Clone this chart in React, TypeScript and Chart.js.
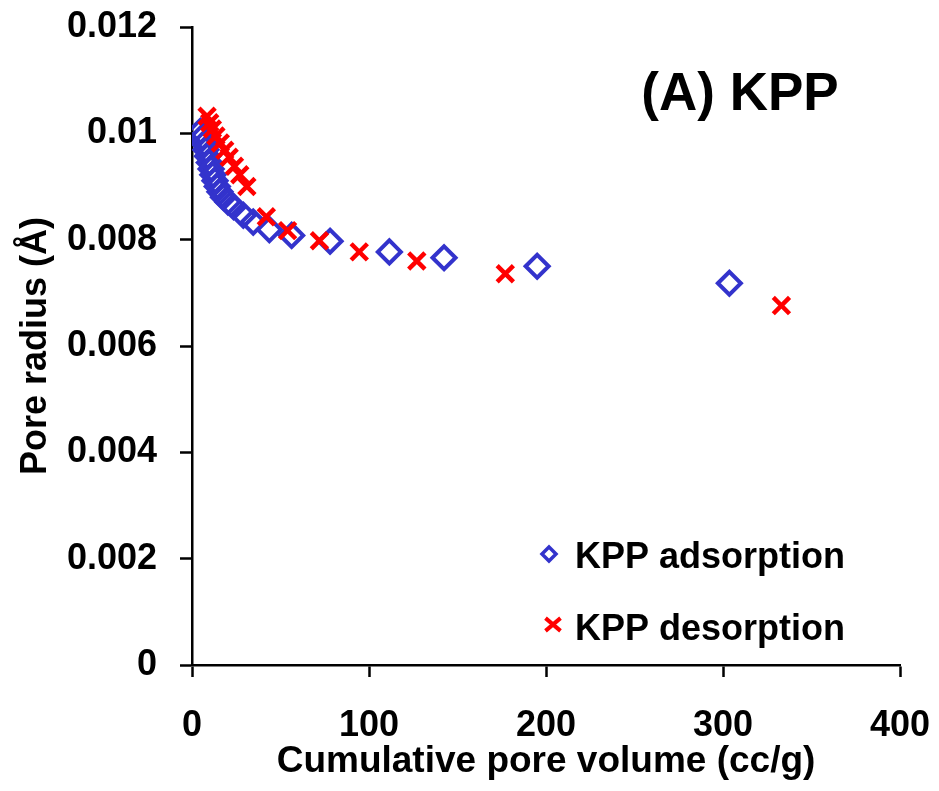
import React, { useEffect, useRef } from 'react';
import { Chart, registerables } from 'chart.js';

Chart.register(...registerables);

// ---- Data ----
const adsorptionVolume = [4.8, 5.8, 6.8, 7.8, 8.8, 9.8, 10.8, 11.8, 13, 14.3, 15.8, 17.8, 20.3, 23.5, 29, 34.6, 43.7, 56.3, 78, 111.5, 142.4, 195, 303.6];
const adsorptionRadius = [0.01004, 0.00993, 0.00981, 0.00969, 0.00957, 0.00945, 0.00933, 0.00922, 0.00911, 0.009, 0.0089, 0.0088, 0.00871, 0.00862, 0.00846, 0.00833, 0.00819, 0.00808, 0.00797, 0.00777, 0.00766, 0.0075, 0.00718];

const desorptionVolume = [8.5, 10, 11.5, 13.5, 16, 18.5, 21, 24, 27, 31, 42, 54, 72, 94.5, 127, 177, 333];
const desorptionRadius = [0.01032, 0.0102, 0.01008, 0.00995, 0.00982, 0.00968, 0.00955, 0.00938, 0.00922, 0.009, 0.00843, 0.00817, 0.00798, 0.00777, 0.0076, 0.00736, 0.00676];

const seriesLabels = ['KPP adsorption', 'KPP desorption'];
const panelLabel = '(A) KPP';
const xAxisTitle = 'Cumulative pore volume (cc/g)';
const yAxisTitle = 'Pore radius (Å)';
const xMin = 0, xMax = 400, xStep = 100;
const yMin = 0, yMax = 0.012, yStep = 0.002;

const BLUE = '#3333CC';
const RED = '#FF0000';
const FONT = '"Liberation Sans", Arial, Helvetica, sans-serif';

const toPoints = (xs: number[], ys: number[]) => xs.map((x, i) => ({ x, y: ys[i] }));

const overlayPlugin = {
  id: 'overlay',
  afterDatasetsDraw(chart: any) {
    const { ctx, chartArea: ca } = chart;
    ctx.save();
    ctx.fillStyle = '#000';
    ctx.textBaseline = 'alphabetic';
    // panel label
    ctx.font = `bold 53px ${FONT}`;
    ctx.textAlign = 'center';
    ctx.fillText(panelLabel, ca.right - 160, ca.top + 83);

    // legend
    ctx.font = `bold 36px ${FONT}`;
    ctx.textAlign = 'left';
    const rows = [
      { cx: ca.left + 357, cy: ca.bottom - 111, base: ca.bottom - 97 },
      { cx: ca.left + 361, cy: ca.bottom - 40.5, base: ca.bottom - 25 },
    ];
    // diamond
    ctx.strokeStyle = BLUE;
    ctx.lineWidth = 3.5;
    ctx.beginPath();
    const r = 7;
    ctx.moveTo(rows[0].cx - r, rows[0].cy);
    ctx.lineTo(rows[0].cx, rows[0].cy - r);
    ctx.lineTo(rows[0].cx + r, rows[0].cy);
    ctx.lineTo(rows[0].cx, rows[0].cy + r);
    ctx.closePath();
    ctx.stroke();
    // cross
    ctx.strokeStyle = RED;
    ctx.lineWidth = 4;
    const c = 7.5;
    ctx.beginPath();
    ctx.moveTo(rows[1].cx - c, rows[1].cy - c * 0.85);
    ctx.lineTo(rows[1].cx + c, rows[1].cy + c * 0.85);
    ctx.moveTo(rows[1].cx + c, rows[1].cy - c * 0.85);
    ctx.lineTo(rows[1].cx - c, rows[1].cy + c * 0.85);
    ctx.stroke();

    ctx.fillStyle = '#000';
    const labels = chart.data.datasets.map((d: any) => d.label);
    ctx.fillText(labels[0], ca.left + 383, rows[0].base);
    ctx.fillText(labels[1], ca.left + 383, rows[1].base);
    ctx.restore();
  },
};

export default function App() {
  const canvasRef = useRef<HTMLCanvasElement | null>(null);

  useEffect(() => {
    if (!canvasRef.current) return;
    const chart = new Chart(canvasRef.current, {
      type: 'scatter',
      data: {
        datasets: [
          {
            label: seriesLabels[0],
            data: toPoints(adsorptionVolume, adsorptionRadius),
            pointStyle: 'rectRot',
            pointRadius: 11.5,
            pointHoverRadius: 11.5,
            pointBorderWidth: 4,
            pointHoverBorderWidth: 4,
            borderColor: BLUE,
            backgroundColor: 'rgba(0,0,0,0)',
            order: 1,
          },
          {
            label: seriesLabels[1],
            data: toPoints(desorptionVolume, desorptionRadius),
            pointStyle: 'crossRot',
            pointRadius: 11.5,
            pointHoverRadius: 11.5,
            pointBorderWidth: 4.5,
            pointHoverBorderWidth: 4.5,
            borderColor: RED,
            backgroundColor: RED,
            order: 0,
          },
        ],
      },
      options: {
        animation: false,
        responsive: true,
        maintainAspectRatio: false,
        layout: { padding: { top: 27, right: 39, left: 0, bottom: 0 } },
        plugins: {
          legend: { display: false },
          tooltip: { enabled: false },
        },
        scales: {
          x: {
            type: 'linear',
            min: xMin,
            max: xMax,
            afterFit: (s: any) => { s.height = 126; s.paddingLeft = 0; s.paddingRight = 0; },
            border: { display: true, color: '#000', width: 2.5 },
            grid: { drawOnChartArea: false, drawTicks: true, tickLength: 12, tickColor: '#000', tickWidth: 2.5 },
            ticks: {
              stepSize: xStep,
              color: '#000',
              padding: 27,
              font: { family: FONT, size: 36, weight: 'bold' },
              maxRotation: 0,
            },
            title: {
              display: true,
              text: xAxisTitle,
              color: '#000',
              font: { family: FONT, size: 37, weight: 'bold' },
              padding: { top: 0, bottom: 7 },
            },
          },
          y: {
            type: 'linear',
            min: yMin,
            max: yMax,
            afterFit: (s: any) => { s.width = 192; s.paddingTop = 0; s.paddingBottom = 0; },
            border: { display: true, color: '#000', width: 2.5 },
            grid: { drawOnChartArea: false, drawTicks: true, tickLength: 12, tickColor: '#000', tickWidth: 2.5 },
            ticks: {
              stepSize: yStep,
              color: '#000',
              padding: 23,
              font: { family: FONT, size: 36, weight: 'bold' },
              callback: (v: any) => String(Number(Number(v).toFixed(3))),
            },
            title: {
              display: true,
              text: yAxisTitle,
              color: '#000',
              font: { family: FONT, size: 36, weight: 'bold' },
              padding: { top: 14, bottom: 0 },
            },
          },
        },
      },
      plugins: [overlayPlugin],
    });
    return () => chart.destroy();
  }, []);

  return (
    <div style={{ position: 'fixed', left: 0, top: 0, width: '939px', height: '791px', background: '#fff' }}>
      <canvas ref={canvasRef} />
    </div>
  );
}
